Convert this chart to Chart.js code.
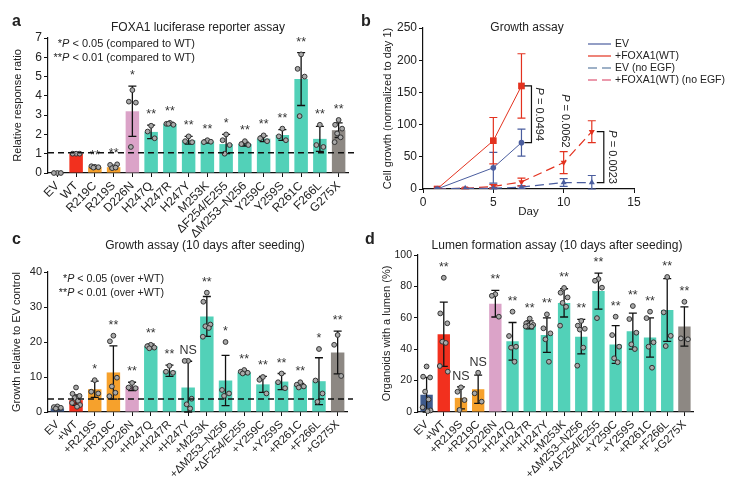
<!DOCTYPE html>
<html>
<head>
<meta charset="utf-8">
<script src="https://cdn.jsdelivr.net/npm/chart.js@4.4.0/dist/chart.umd.min.js"></script>
<style>
  body { margin: 0; background: #fff; font-family: "Liberation Sans", Arial, sans-serif; color: #222; }
  #wrap { position: relative; width: 730px; height: 478px; overflow: hidden; }
  canvas { position: absolute; }
  .lbl { position: absolute; font-weight: bold; font-size: 16px; line-height: 18px; }
  .ttl { position: absolute; font-size: 12px; line-height: 14px; white-space: nowrap; transform: translateX(-50%); }
  .note { position: absolute; font-size: 10.7px; white-space: nowrap; text-align: right; }
</style>
</head>
<body>
<div id="wrap">
  <canvas id="chartA" width="365" height="240" style="left:0;top:0"></canvas>
  <canvas id="chartB" width="365" height="240" style="left:365px;top:0"></canvas>
  <canvas id="chartC" width="365" height="238" style="left:0;top:240px"></canvas>
  <canvas id="chartD" width="365" height="238" style="left:365px;top:240px"></canvas>

  <div class="lbl" style="left:12px;top:12px">a</div>
  <div class="lbl" style="left:361px;top:12px">b</div>
  <div class="lbl" style="left:12px;top:230px">c</div>
  <div class="lbl" style="left:365px;top:230px">d</div>

  <div class="ttl" style="left:198px;top:20px">FOXA1 luciferase reporter assay</div>
  <div class="ttl" style="left:527px;top:20px">Growth assay</div>
  <div class="ttl" style="left:205px;top:238px">Growth assay (10 days after seeding)</div>
  <div class="ttl" style="left:557px;top:238px">Lumen formation assay (10 days after seeding)</div>

  <div class="note" style="right:535px;top:37px;line-height:13.6px;font-size:11px">*<i>P</i> &lt; 0.05 (compared to WT)<br>**<i>P</i> &lt; 0.01 (compared to WT)</div>
  <div class="note" style="right:566px;top:271px;line-height:14px">*<i>P</i> &lt; 0.05 (over +WT)<br>**<i>P</i> &lt; 0.01 (over +WT)</div>
</div>
<script>
// ---- panel a: luciferase reporter ----
const aLabels = ['EV', 'WT', 'R219C', 'R219S', 'D226N', 'H247Q', 'H247R', 'H247Y', 'M253K', 'ΔF254/E255', 'ΔM253–N256', 'Y259C', 'Y259S', 'R261C', 'F266L', 'G275X'];
const aMeans = [0, 1.0, 0.3, 0.3, 3.2, 2.13, 2.55, 1.7, 1.63, 1.5, 1.5, 1.78, 1.97, 4.87, 1.77, 2.22];
const aErr = [0, 0.02, 0.05, 0.08, 1.3, 0.35, 0.08, 0.2, 0.08, 0.5, 0.1, 0.15, 0.28, 1.37, 0.65, 0.38];
const aDots = [[0, 0, 0], [1, 1, 1], [0.32, 0.35, 0.3, 0.28], [0.3, 0.42, 0.45, 0.25, 0.28], [4.3, 3.7, 3.65, 1.35], [2.45, 2.15, 1.8], [2.6, 2.55, 2.5, 2.55], [1.9, 1.65, 1.6], [1.7, 1.6, 1.62], [2.0, 1.7, 1.45, 1.0], [1.65, 1.5, 1.45], [1.95, 1.8, 1.65], [2.3, 1.9, 1.7], [6.15, 5.4, 5.0, 2.95], [2.5, 1.45, 1.35], [2.75, 2.5, 2.3, 2.05, 1.85, 1.6]];
const aStars = ['', '', '**', '**', '*', '**', '**', '**', '**', '*', '**', '**', '**', '**', '**', '**'];
const aRef = 1.05;

// ---- panel b: growth curves ----
const bDays = [1, 5, 7];
const bDaysNoEGF = [1, 3, 5, 7, 10, 12];
const bEV = [0, 33, 72];
const bEVErr = [0, 24, 21];
const bWT = [0, 75, 160];
const bWTErr = [0, 36, 50];
const bEVNoEGF = [0, 1, 1, 3, 10, 10];
const bEVNoEGFErr = [0, 0.5, 1, 2, 6, 11];
const bWTNoEGF = [0, 1, 4, 11, 41, 89];
const bWTNoEGFErr = [0, 0.5, 3, 6, 17, 17];
const bPvals = ['0.0494', '0.0062', '0.0023'];

// ---- panel c: growth after 10 days ----
const cLabels = ['EV', '+WT', '+R219S', '+R219C', '+D226N', '+H247Q', '+H247R', '+H247Y', '+M253K', '+ΔM253–N256', '+ΔF254/E255', '+Y259C', '+Y259S', '+R261C', '+F266L', '+G275X'];
const cMeans = [1.0, 3.4, 6.5, 11.3, 7.3, 18.8, 11.8, 7.0, 27.3, 9.0, 11.3, 7.9, 8.7, 7.6, 8.8, 17.0];
const cErr = [0.3, 1.5, 2.3, 7.6, 1.2, 0.6, 1.6, 7.5, 5.7, 7.2, 0.5, 2.3, 2.3, 0.6, 6.7, 6.1];
const cDots = [[1.6, 1.4, 1.2, 1.0], [7.0, 5.2, 4.6, 4.0, 3.2, 2.6, 2.0, 1.5], [9.1, 5.8, 5.3], [21.8, 20.2, 9.8, 7.3, 5.5, 4.5], [8.3, 7.0, 6.8], [19.2, 18.8, 18.4, 18.2], [13.2, 11.5, 11.2], [14.6, 14.6, 3.8, 2.2, 1.0], [34.1, 31.5, 25.0, 24.5, 24.0, 21.5], [20.0, 6.3, 5.3, 4.6], [12.0, 11.5, 11.2, 11.0], [10.0, 9.2, 5.3], [11.0, 8.5, 6.8], [8.5, 7.8, 7.3, 7.0], [18.0, 9.0, 5.3, 2.9], [22.0, 19.2, 10.3]];
const cStars = ['', '', '*', '**', '**', '**', '**', 'NS', '**', '*', '**', '**', '**', '**', '*', '**'];
const cRef = 3.7;

// ---- panel d: lumen formation ----
const dLabels = cLabels;
const dMeans = [11, 49.5, 9, 14.5, 69, 45, 55.5, 49, 69.5, 48, 77, 43, 51.5, 47.5, 65, 54.5];
const dErr = [11, 20.5, 7, 9, 8.5, 12, 2.5, 11, 9, 11, 11.5, 12, 11.5, 12.5, 20, 12.5];
const dDots = [[29, 22.5, 22, 13, 8, 3, 1, 0.5], [85.5, 62.8, 56.5, 44.8, 44, 29.3, 25.7], [15.7, 12.9, 7.6, 1.3], [25, 11.9, 6.6], [75, 74, 60.7], [63.9, 48.4, 41.6, 41, 32], [59.5, 56.5, 55.5, 55, 54.5, 54.5], [62.2, 53.3, 50.1, 46.3, 32], [79, 76, 73, 69.5, 67, 55], [58, 55, 53, 52.5, 41, 29.5], [84.7, 83.6, 79.2, 59.8], [60.7, 49, 41.6, 34.2, 31.7], [67.5, 59.2, 50.5, 43.1, 40.1], [63.9, 59.8, 44.4, 41.6, 28.2], [86, 63.5, 48.5, 42], [70.2, 46.9, 46.3]];
const dStars = ['', '**', 'NS', 'NS', '**', '**', '**', '**', '**', '**', '**', '**', '**', '**', '**', '**'];

const FONT = '"Liberation Sans", Arial, sans-serif';
const INK = '#222';
const jitter = [0, -3.5, 3.5, -1.5, 2, -4, 4, 1];

function barColor(label) {
  if (label === 'EV') return '#3f5b8d';
  if (/WT/.test(label)) return '#f2301e';
  if (/R219/.test(label)) return '#f6a12c';
  if (/D226N/.test(label)) return '#dba3c8';
  if (/G275X/.test(label)) return '#8d8883';
  return '#52d1b8';
}

// error bars, replicate dots, significance marks, dashed WT line
const barMarks = {
  id: 'barMarks',
  afterDatasetsDraw(chart, args, o) {
    const ctx = chart.ctx, x = chart.scales.x, y = chart.scales.y, area = chart.chartArea;
    ctx.save();
    o.means.forEach((m, i) => {
      const cx = x.getPixelForValue(i);
      const e = o.err[i];
      if (e > 0) {
        const y1 = y.getPixelForValue(m + e), y0 = y.getPixelForValue(Math.max(0, m - e));
        ctx.strokeStyle = '#111';
        ctx.lineWidth = 1.3;
        ctx.beginPath();
        ctx.moveTo(cx, y0); ctx.lineTo(cx, y1);
        ctx.moveTo(cx - 4, y1); ctx.lineTo(cx + 4, y1);
        ctx.moveTo(cx - 4, y0); ctx.lineTo(cx + 4, y0);
        ctx.stroke();
      }
      o.dots[i].forEach((v, k) => {
        ctx.beginPath();
        ctx.arc(cx + jitter[k % jitter.length], y.getPixelForValue(v), 2.4, 0, Math.PI * 2);
        ctx.fillStyle = '#a9a9a9';
        ctx.fill();
        ctx.strokeStyle = '#333';
        ctx.lineWidth = 1;
        ctx.stroke();
      });
      if (o.stars[i]) {
        const top = Math.max(m + e, Math.max.apply(null, o.dots[i]));
        ctx.fillStyle = '#333';
        ctx.font = '12.5px ' + FONT;
        ctx.textAlign = 'center';
        ctx.textBaseline = 'alphabetic';
        ctx.fillText(o.stars[i], cx, y.getPixelForValue(top) - 7);
      }
    });
    if (o.ref != null) {
      const py = y.getPixelForValue(o.ref);
      ctx.setLineDash([6, 4]);
      ctx.strokeStyle = '#111';
      ctx.lineWidth = 1.4;
      ctx.beginPath();
      ctx.moveTo(area.left, py); ctx.lineTo(area.right + 6, py);
      ctx.stroke();
    }
    ctx.restore();
  }
};

function makeBarChart(id, labels, means, err, dots, stars, ref, yMax, step, yTitle, g) {
  return new Chart(document.getElementById(id), {
    type: 'bar',
    data: {
      labels: labels,
      datasets: [{
        data: means,
        backgroundColor: labels.map(barColor),
        borderWidth: 0,
        barPercentage: 0.72,
        categoryPercentage: 1
      }]
    },
    options: {
      responsive: false,
      animation: false,
      layout: { padding: { top: g.top, right: g.right, left: 0, bottom: 0 } },
      plugins: {
        legend: { display: false },
        tooltip: { enabled: false },
        barMarks: { means: means, err: err, dots: dots, stars: stars, ref: ref }
      },
      scales: {
        x: {
          offset: true,
          grid: { drawOnChartArea: false, offset: false, tickLength: 4, color: '#111' },
          border: { color: '#111', width: 1.2 },
          ticks: { color: INK, font: { family: FONT, size: g.xFont }, minRotation: 45, maxRotation: 45, autoSkip: false, padding: 2 },
          afterFit(s) { s.height = g.xh; }
        },
        y: {
          min: 0,
          max: yMax,
          ticks: { stepSize: step, color: INK, font: { family: FONT, size: g.yFont }, padding: 2 },
          grid: { drawOnChartArea: false, tickLength: 4, color: '#111' },
          border: { color: '#111', width: 1.2 },
          title: { display: true, text: yTitle, color: INK, font: { family: FONT, size: 11 }, padding: { top: g.tp, bottom: 0 } },
          afterFit(s) { s.width = g.yw; }
        }
      }
    },
    plugins: [barMarks]
  });
}

makeBarChart('chartA', aLabels, aMeans, aErr, aDots, aStars, aRef, 7, 1, 'Relative response ratio',
  { top: 38, right: 17, yw: 48, xh: 67, tp: 11, xFont: 12, yFont: 12 });
makeBarChart('chartC', cLabels, cMeans, cErr, cDots, cStars, cRef, 40, 10, 'Growth relative to EV control',
  { top: 32, right: 18, yw: 48, xh: 66, tp: 10.5, xFont: 11.3, yFont: 11 });
makeBarChart('chartD', dLabels, dMeans, dErr, dDots, dStars, null, 100, 20, 'Organoids with a lumen (%)',
  { top: 15, right: 37, yw: 53, xh: 66, tp: 15, xFont: 11.3, yFont: 10.5 });

// ---- panel b ----
function drawRotP(ctx, text, cx, cy) {
  ctx.save();
  ctx.translate(cx, cy);
  ctx.rotate(Math.PI / 2);
  ctx.font = 'italic 11px ' + FONT;
  const wP = ctx.measureText('P').width;
  ctx.font = '11px ' + FONT;
  const wR = ctx.measureText(' = ' + text).width;
  const start = -(wP + wR) / 2;
  ctx.textAlign = 'left';
  ctx.textBaseline = 'middle';
  ctx.fillStyle = INK;
  ctx.font = 'italic 11px ' + FONT;
  ctx.fillText('P', start, 0);
  ctx.font = '11px ' + FONT;
  ctx.fillText(' = ' + text, start + wP, 0);
  ctx.restore();
  return wP + wR;
}

const growthMarks = {
  id: 'growthMarks',
  beforeDatasetsDraw(chart, args, o) {
    const ctx = chart.ctx, x = chart.scales.x, y = chart.scales.y;
    ctx.save();
    chart.data.datasets.forEach((ds, di) => {
      ctx.strokeStyle = ds.borderColor;
      ctx.lineWidth = 1.2;
      ds.data.forEach((p, i) => {
        const e = o.err[di][i];
        if (!e) return;
        const px = x.getPixelForValue(p.x);
        const y1 = y.getPixelForValue(p.y + e), y0 = y.getPixelForValue(Math.max(0, p.y - e));
        ctx.beginPath();
        ctx.moveTo(px, y0); ctx.lineTo(px, y1);
        ctx.moveTo(px - 4, y1); ctx.lineTo(px + 4, y1);
        ctx.moveTo(px - 4, y0); ctx.lineTo(px + 4, y0);
        ctx.stroke();
      });
    });
    ctx.restore();
  },
  afterDraw(chart, args, o) {
    const ctx = chart.ctx, x = chart.scales.x, y = chart.scales.y;
    ctx.save();
    ctx.strokeStyle = '#111';
    ctx.lineWidth = 1.2;
    function bracket(day, hi, lo, dx) {
      const bx = x.getPixelForValue(day) + dx;
      const yt = y.getPixelForValue(hi), yb = y.getPixelForValue(lo);
      ctx.beginPath();
      ctx.moveTo(bx - 7, yt); ctx.lineTo(bx, yt); ctx.lineTo(bx, yb); ctx.lineTo(bx - 7, yb);
      ctx.stroke();
      return { bx: bx, mid: (yt + yb) / 2 };
    }
    let b1 = bracket(7, bWT[2], bEV[2], 10);
    drawRotP(ctx, o.pvals[0], b1.bx + 8, b1.mid);
    // p for day 10 sits above the error bar
    ctx.font = '11px ' + FONT;
    const len = ctx.measureText('P = ' + o.pvals[1]).width;
    drawRotP(ctx, o.pvals[1], x.getPixelForValue(10) + 1, y.getPixelForValue(bWTNoEGF[4] + bWTNoEGFErr[4]) - 4 - len / 2);
    let b3 = bracket(12, bWTNoEGF[5], bEVNoEGF[5], 12);
    drawRotP(ctx, o.pvals[2], b3.bx + 8, b3.mid);

    // legend
    ctx.font = '10.5px ' + FONT;
    ctx.textBaseline = 'middle';
    ctx.textAlign = 'left';
    chart.data.datasets.forEach((ds, i) => {
      const yy = 44 + i * 12;
      ctx.strokeStyle = ds.legendColor || ds.borderColor;
      ctx.lineWidth = 1.2;
      ctx.setLineDash(ds.borderDash || []);
      ctx.beginPath();
      ctx.moveTo(223, yy); ctx.lineTo(246, yy);
      ctx.stroke();
      ctx.setLineDash([]);
      ctx.fillStyle = INK;
      ctx.fillText(ds.label, 250, yy);
    });
    ctx.restore();
  }
};

const BLUE = '#4a5d9e', RED = '#e3321f';
new Chart(document.getElementById('chartB'), {
  type: 'line',
  data: {
    datasets: [
      { label: 'EV', data: bDays.map((d, i) => ({ x: d, y: bEV[i] })), borderColor: BLUE, backgroundColor: BLUE,
        borderWidth: 1, pointStyle: 'circle', pointRadius: 2.8, pointBorderWidth: 0 },
      { label: '+FOXA1(WT)', data: bDays.map((d, i) => ({ x: d, y: bWT[i] })), borderColor: RED, backgroundColor: RED,
        borderWidth: 1, pointStyle: 'rect', pointRadius: 4.7, pointBorderWidth: 0 },
      { label: 'EV (no EGF)', data: bDaysNoEGF.map((d, i) => ({ x: d, y: bEVNoEGF[i] })), borderColor: BLUE, backgroundColor: BLUE,
        legendColor: '#3f6590', borderWidth: 1.2, borderDash: [9, 5], pointStyle: 'triangle', pointRadius: 3.5, pointBorderWidth: 0 },
      { label: '+FOXA1(WT) (no EGF)', data: bDaysNoEGF.map((d, i) => ({ x: d, y: bWTNoEGF[i] })), borderColor: RED, backgroundColor: RED,
        legendColor: '#d8345a', borderWidth: 1.2, borderDash: [9, 5], pointStyle: 'triangle', pointRotation: 180, pointRadius: 3.5, pointBorderWidth: 0 }
    ]
  },
  options: {
    responsive: false,
    animation: false,
    layout: { padding: { top: 28, right: 96, left: 0, bottom: 0 } },
    plugins: {
      legend: { display: false },
      tooltip: { enabled: false },
      growthMarks: { err: [bEVErr, bWTErr, bEVNoEGFErr, bWTNoEGFErr], pvals: bPvals }
    },
    scales: {
      x: {
        type: 'linear',
        min: 0,
        max: 15,
        ticks: { stepSize: 5, color: INK, font: { family: FONT, size: 12 }, padding: 2 },
        grid: { drawOnChartArea: false, tickLength: 4, color: '#111' },
        border: { color: '#111', width: 1.2 },
        title: { display: true, text: 'Day', color: INK, font: { family: FONT, size: 11.5 }, padding: { top: 0, bottom: 21 } },
        afterFit(s) { s.height = 51; }
      },
      y: {
        min: 0,
        max: 250,
        ticks: { stepSize: 50, color: INK, font: { family: FONT, size: 12 }, padding: 2 },
        grid: { drawOnChartArea: false, tickLength: 4, color: '#111' },
        border: { color: '#111', width: 1.2 },
        title: { display: true, text: 'Cell growth (normalized to day 1)', color: INK, font: { family: FONT, size: 11 }, padding: { top: 16, bottom: 0 } },
        afterFit(s) { s.width = 58; }
      }
    }
  },
  plugins: [growthMarks]
});
</script>
</body>
</html>
